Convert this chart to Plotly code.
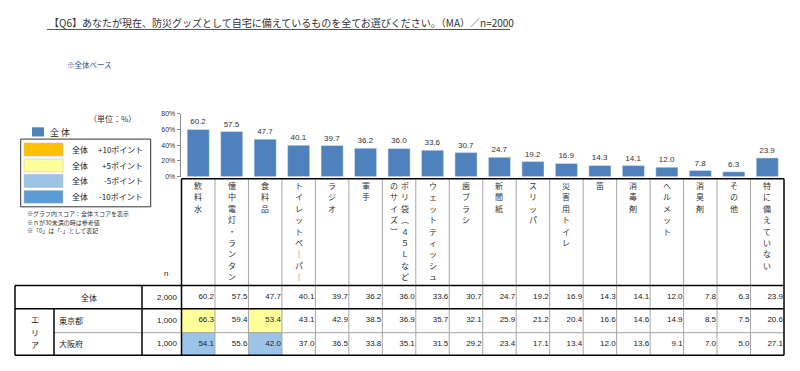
import plotly.graph_objects as go

# ---------------- data ----------------
categories = ["飲料水", "懐中電灯・ランタン", "食料品", "トイレットペーパー", "ラジオ", "軍手",
              "ポリ袋（45Lなどのサイズ）", "ウェットティッシュ", "歯ブラシ", "新聞紙", "スリッパ",
              "災害用トイレ", "笛", "消毒剤", "ヘルメット", "消臭剤", "その他", "特に備えていない"]
total = [60.2, 57.5, 47.7, 40.1, 39.7, 36.2, 36.0, 33.6, 30.7, 24.7, 19.2, 16.9, 14.3, 14.1, 12.0, 7.8, 6.3, 23.9]
tokyo = [66.3, 59.4, 53.4, 43.1, 42.9, 38.5, 36.9, 35.7, 32.1, 25.9, 21.2, 20.4, 16.6, 14.6, 14.9, 8.5, 7.5, 20.6]
osaka = [54.1, 55.6, 42.0, 37.0, 36.5, 33.8, 35.1, 31.5, 29.2, 23.4, 17.1, 13.4, 12.0, 13.6, 9.1, 7.0, 5.0, 27.1]
row_labels = ["全体", "東京都", "大阪府"]
row_n = [2000, 1000, 1000]
y_ticks = [0, 20, 40, 60, 80]
y_ticktext = ["0%", "20%", "40%", "60%", "80%"]
legend_points = ["+10ポイント", "+5ポイント", "-5ポイント", "-10ポイント"]
legend_colors = ["#FFC000", "#FFFF99", "#9DC3E6", "#5B9BD5"]

title = "【Q6】あなたが現在、防災グッズとして自宅に備えているものを全てお選びください。（MA）／n=2000"

W, H = 800, 371
JP = "Noto Sans CJK JP"
NUM = "Liberation Sans, Noto Sans CJK JP"


def px(x):
    return x / W


def py(y):
    return 1 - y / H


rows = [total, tokyo, osaka]
ncol = len(categories)


def code(diff):
    if diff >= 10:
        return 2
    if diff >= 5:
        return 1
    if diff <= -10:
        return -2
    if diff <= -5:
        return -1
    return None


z = [[None] * ncol] + [[code(r[i] - total[i]) for i in range(ncol)] for r in (tokyo, osaka)]

fig = go.Figure()

# bars
fig.add_trace(go.Bar(
    x=list(range(ncol)), y=total, width=0.66,
    marker=dict(color="#4F81BD"),
    text=[f"{v:.1f}" for v in total], texttemplate="%{text}", textposition="outside",
    textfont=dict(size=8, color="#333333", family=NUM),
    cliponaxis=False, showlegend=False, hoverinfo="skip",
    xaxis="x", yaxis="y",
))

# highlighted cells
cs = [[0, "#5B9BD5"], [0.125, "#5B9BD5"], [0.125, "#9DC3E6"], [0.375, "#9DC3E6"],
      [0.375, "#FFFFFF"], [0.625, "#FFFFFF"], [0.625, "#FFFF99"], [0.875, "#FFFF99"],
      [0.875, "#FFC000"], [1, "#FFC000"]]
fig.add_trace(go.Heatmap(
    x=list(range(ncol)), y=[0, 1, 2], z=z, zmin=-2, zmax=2, colorscale=cs,
    showscale=False, hoverinfo="skip", xaxis="x", yaxis="y2",
))

# table values
for r, vals in enumerate(rows):
    fig.add_trace(go.Scatter(
        x=[i + 0.47 for i in range(ncol)], y=[r] * ncol, mode="text",
        text=[f"{v:.1f}" for v in vals], textposition="middle left",
        textfont=dict(size=8, color="#222222", family=NUM),
        showlegend=False, hoverinfo="skip", xaxis="x", yaxis="y2", cliponaxis=False,
    ))

annotations = []
shapes = []

# title
annotations.append(dict(x=px(47), y=py(19), xref="paper", yref="paper", text=title,
                        showarrow=False, xanchor="left", yanchor="middle",
                        font=dict(size=10, color="#333333", family=JP)))
shapes.append(dict(type="line", xref="paper", yref="paper", x0=px(47), x1=px(510),
                   y0=py(26), y1=py(26), line=dict(color="#555555", width=1)))
annotations.append(dict(x=px(65), y=py(62), xref="paper", yref="paper", text="※全体ベース",
                        showarrow=False, xanchor="left", yanchor="middle",
                        font=dict(size=7.5, color="#2F5597", family=JP)))

# unit + legend
annotations.append(dict(x=px(138), y=py(117), xref="paper", yref="paper", text="（単位：%）",
                        showarrow=False, xanchor="right", yanchor="middle",
                        font=dict(size=8, color="#333333", family=JP)))
shapes.append(dict(type="rect", xref="paper", yref="paper", x0=px(32), x1=px(44),
                   y0=py(135), y1=py(125.7), fillcolor="#4F81BD", line=dict(width=0)))
annotations.append(dict(x=px(48), y=py(130.5), xref="paper", yref="paper", text="全 体",
                        showarrow=False, xanchor="left", yanchor="middle",
                        font=dict(size=9, color="#222222", family=JP)))
shapes.append(dict(type="rect", xref="paper", yref="paper", x0=px(20.7), x1=px(150.7),
                   y0=py(206.7), y1=py(137.7), line=dict(color="#333333", width=1)))
sw_y = [(141.7, 155), (158, 171), (173.5, 187), (190, 203)]
for (ya, yb), col, lab in zip(sw_y, legend_colors, legend_points):
    shapes.append(dict(type="rect", xref="paper", yref="paper", x0=px(24), x1=px(63),
                       y0=py(yb), y1=py(ya), fillcolor=col, line=dict(color="#BFBFBF", width=0.5)))
    yc = (ya + yb) / 2
    annotations.append(dict(x=px(70), y=py(yc), xref="paper", yref="paper", text="全体",
                            showarrow=False, xanchor="left", yanchor="middle",
                            font=dict(size=8, color="#222222", family=JP)))
    annotations.append(dict(x=px(145), y=py(yc), xref="paper", yref="paper", text=lab,
                            showarrow=False, xanchor="right", yanchor="middle",
                            font=dict(size=8, color="#222222", family=JP)))
notes = ["※グラフ内スコア：全体スコアを表示", "※ｎが30未満の時は参考値", "※「0」は「-」として表記"]
for k, t in enumerate(notes):
    annotations.append(dict(x=px(25), y=py(214 + 8.5 * k), xref="paper", yref="paper", text=t,
                            showarrow=False, xanchor="left", yanchor="middle",
                            font=dict(size=6, color="#333333", family=JP)))

# vertical header labels (one annotation per character, stacked top to bottom)
VMAP = {"ー": "｜", "（": "︵", "）": "︶", "4": "４", "5": "５", "L": "Ｌ"}
for i, cat in enumerate(categories):
    chars = [VMAP.get(c, c) for c in cat]
    chunks = [chars[k:k + 9] for k in range(0, len(chars), 9)]
    n = len(chunks)
    for k, ch in enumerate(chunks):
        off = ((n - 1) / 2 - k) * 0.33
        for j, c in enumerate(ch):
            annotations.append(dict(x=i + off, y=py(185 + 11.6 * j), xref="x", yref="paper",
                                    text=c, showarrow=False,
                                    xanchor="center", yanchor="middle",
                                    font=dict(size=8, color="#333333", family=JP)))

# left table labels
annotations.append(dict(x=px(162), y=py(281), xref="paper", yref="paper", text="n",
                        showarrow=False, font=dict(size=8, color="#222222", family=NUM)))
annotations.append(dict(x=px(78.5), y=0, xref="paper", yref="y2", text=row_labels[0],
                        showarrow=False, font=dict(size=8, color="#222222", family=JP)))
for r in (1, 2):
    annotations.append(dict(x=px(57), y=r, xref="paper", yref="y2", text=row_labels[r],
                            showarrow=False, xanchor="left", yanchor="middle",
                            font=dict(size=8, color="#222222", family=JP)))
for ch, yy in zip("エリア", (321.5, 334.5, 347)):
    annotations.append(dict(x=px(35), y=py(yy), xref="paper", yref="paper", text=ch,
                            showarrow=False, xanchor="center", yanchor="middle",
                            font=dict(size=8, color="#222222", family=JP)))
for r, nv in enumerate(row_n):
    annotations.append(dict(x=px(180), y=r, xref="paper", yref="y2", text=f"{nv:,}",
                            showarrow=False, xanchor="right", yanchor="middle",
                            font=dict(size=8, color="#222222", family=NUM)))


def hline(x0, x1, y, color="#000000", width=1.5):
    shapes.append(dict(type="line", xref="paper", yref="paper", x0=px(x0), x1=px(x1),
                       y0=py(y), y1=py(y), line=dict(color=color, width=width)))


def vline(x, y0, y1, color="#000000", width=1.5):
    shapes.append(dict(type="line", xref="paper", yref="paper", x0=px(x), x1=px(x),
                       y0=py(y0), y1=py(y1), line=dict(color=color, width=width)))


# gray column dividers (data coords)
for i in range(1, ncol):
    shapes.append(dict(type="line", xref="x", yref="paper", x0=i - 0.5, x1=i - 0.5,
                       y0=py(178), y1=py(358), line=dict(color="#A6A6A6", width=1)))
hline(54, 784, 335, color="#A6A6A6", width=1)
hline(181.5, 784, 178)
vline(181.5, 178, 358)
vline(784, 178, 358)
hline(15, 784, 287)
hline(15, 784, 310.7)
hline(15, 784, 358)
vline(15, 287, 358)
vline(142, 287, 358)
vline(54, 310.7, 358)

fig.update_layout(
    width=W, height=H, margin=dict(l=0, r=0, t=0, b=0),
    paper_bgcolor="white", plot_bgcolor="rgba(0,0,0,0)",
    showlegend=False,
    xaxis=dict(domain=[px(181.5), px(784)], range=[-0.5, ncol - 0.5], visible=False, fixedrange=True),
    yaxis=dict(domain=[py(176), py(112)], range=[0, 80], anchor="free", position=px(179.7),
               showline=True, linecolor="#868686", linewidth=1, ticks="outside", ticklen=3,
               tickcolor="#868686", tickvals=y_ticks, ticktext=y_ticktext,
               tickfont=dict(size=7, color="#333333", family=NUM), showgrid=False, zeroline=False),
    yaxis2=dict(domain=[py(358), py(287)], range=[2.5, -0.5], anchor="x", visible=False),
    annotations=annotations, shapes=shapes,
)

fig.write_html("out.html", config={"displayModeBar": False},
               post_script="document.body.style.margin='0';document.body.style.overflow='hidden';")
